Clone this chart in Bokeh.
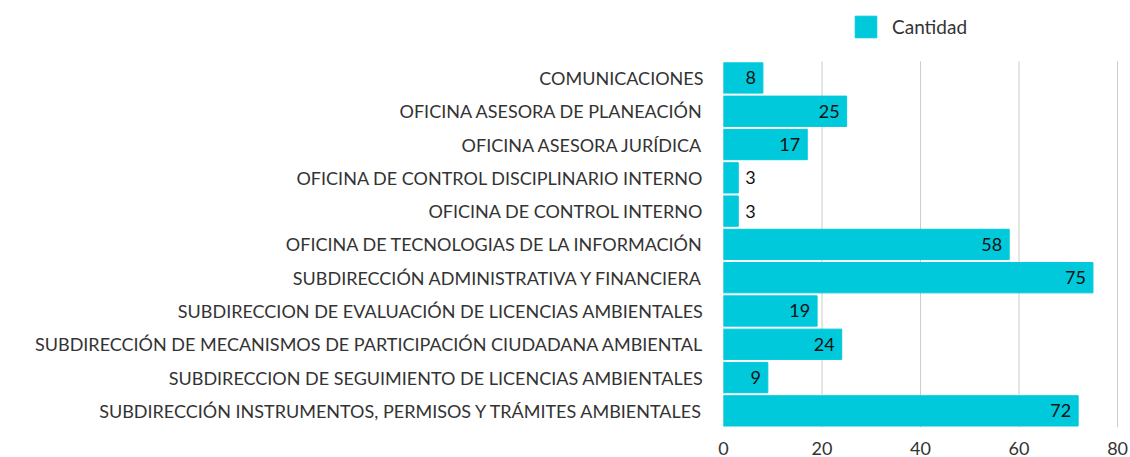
from bokeh.plotting import figure
from bokeh.models import ColumnDataSource, Legend, LegendItem, Range1d, FixedTicker
from bokeh.core.properties import value
from bokeh.embed import file_html
from bokeh.resources import INLINE

categories = [
    "COMUNICACIONES",
    "OFICINA ASESORA DE PLANEACIÓN",
    "OFICINA ASESORA JURÍDICA",
    "OFICINA DE CONTROL DISCIPLINARIO INTERNO",
    "OFICINA DE CONTROL INTERNO",
    "OFICINA DE TECNOLOGIAS DE LA INFORMACIÓN",
    "SUBDIRECCIÓN ADMINISTRATIVA Y FINANCIERA",
    "SUBDIRECCION DE EVALUACIÓN DE LICENCIAS AMBIENTALES",
    "SUBDIRECCIÓN DE MECANISMOS DE PARTICIPACIÓN CIUDADANA AMBIENTAL",
    "SUBDIRECCION DE SEGUIMIENTO DE LICENCIAS AMBIENTALES",
    "SUBDIRECCIÓN INSTRUMENTOS, PERMISOS Y TRÁMITES AMBIENTALES",
]
cantidad = [8, 25, 17, 3, 3, 58, 75, 19, 24, 9, 72]
x_ticks = [0, 20, 40, 60, 80]
series_name = "Cantidad"

FONT = "Lato"
BAR = "#00C9DB"
TXT = "#333333"

n = len(categories)
ypos = [n - 1 - i for i in range(n)]          # first category at the top
inside = [v >= 5 for v in cantidad]

src = ColumnDataSource(dict(y=ypos, x=cantidad))
src_in = ColumnDataSource(dict(
    y=[y for y, f in zip(ypos, inside) if f],
    x=[v for v, f in zip(cantidad, inside) if f],
    t=[str(v) for v, f in zip(cantidad, inside) if f],
))
src_out = ColumnDataSource(dict(
    y=[y for y, f in zip(ypos, inside) if not f],
    x=[v for v, f in zip(cantidad, inside) if not f],
    t=[str(v) for v, f in zip(cantidad, inside) if not f],
))

FRAME_H = 431          # px, frame spans from canvas top to the bottom of the bars
BAND = 33.6            # px per category
p = figure(
    width=1130, height=457,
    y_range=Range1d(-0.5, -0.5 + FRAME_H / BAND),
    x_range=Range1d(0, 81),
    output_backend="svg", toolbar_location=None,
    min_border_left=723, min_border_right=8, min_border_top=0, min_border_bottom=26,
)
p.outline_line_color = None

# vertical grid lines restricted to the bar area
p.segment(x0=x_ticks, x1=x_ticks, y0=[-0.5] * len(x_ticks), y1=[n - 0.5] * len(x_ticks),
          line_color="#CCCCCC", line_width=1)

r = p.hbar(y="y", right="x", left=0, height=0.91, source=src, fill_color=BAR, line_color=BAR)

p.text(x="x", y="y", text="t", source=src_in, x_offset=-7, text_align="right",
       text_baseline="middle", text_font=value(FONT), text_font_size="18px", text_color="#111111")
p.text(x="x", y="y", text="t", source=src_out, x_offset=7, text_align="left",
       text_baseline="middle", text_font=value(FONT), text_font_size="18px", text_color="#111111")

p.xaxis.ticker = FixedTicker(ticks=x_ticks)
p.xaxis.axis_line_color = None
p.xaxis.major_tick_line_color = None
p.xaxis.minor_tick_line_color = None
p.xaxis.major_label_standoff = 8
p.xaxis.major_label_text_font = FONT
p.xaxis.major_label_text_font_size = "18px"
p.xaxis.major_label_text_color = TXT

p.yaxis.ticker = FixedTicker(ticks=ypos)
p.yaxis.major_label_overrides = {y: c for y, c in zip(ypos, categories)}
p.yaxis.axis_line_color = None
p.yaxis.major_tick_line_color = None
p.yaxis.minor_tick_line_color = None
p.yaxis.major_label_standoff = 14
p.yaxis.major_label_text_font = FONT
p.yaxis.major_label_text_font_size = "18px"
p.yaxis.major_label_text_color = TXT

p.xgrid.grid_line_color = None
p.ygrid.grid_line_color = None

legend = Legend(items=[LegendItem(label=series_name, renderers=[r])],
                location=(129, 387), orientation="vertical",
                glyph_width=27, glyph_height=27, label_text_font=FONT,
                label_text_font_size="19px", label_text_color=TXT,
                border_line_color=None, background_fill_alpha=0,
                label_standoff=13, padding=4, margin=0)
p.add_layout(legend, "center")

open("out.html", "w").write(file_html(p, INLINE))
